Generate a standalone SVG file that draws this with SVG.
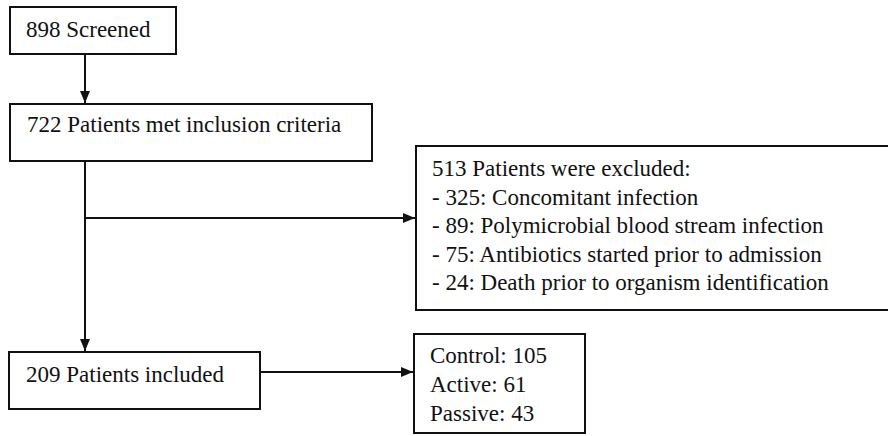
<svg xmlns="http://www.w3.org/2000/svg" width="888" height="436" viewBox="0 0 888 436">
<style>
.box{fill:#fff;stroke:#111;stroke-width:2}
.t{font-family:"Liberation Serif","Times New Roman",serif;font-size:23px;fill:#111}
.ln{fill:none;stroke:#111;stroke-width:2}
</style>
<defs>
<marker id="ah" viewBox="0 0 12 10" refX="12" refY="5" markerWidth="12" markerHeight="10" markerUnits="userSpaceOnUse" orient="auto">
<path d="M0,0 L12,5 L0,10 Z" fill="#111"/>
</marker>
</defs>
<rect width="888" height="436" fill="#fff"/>
<g id="connectors">
<line class="ln" x1="85" y1="54" x2="85" y2="103" marker-end="url(#ah)"/>
<line class="ln" x1="85" y1="161" x2="85" y2="351" marker-end="url(#ah)"/>
<line class="ln" x1="85" y1="218" x2="415" y2="218" marker-end="url(#ah)"/>
<line class="ln" x1="260" y1="372" x2="413" y2="372" marker-end="url(#ah)"/>
</g>
<g id="screened">
<rect class="box" x="10" y="7" width="166" height="47"/>
<text class="t" x="26" y="37">898 Screened</text>
</g>
<g id="met-criteria">
<rect class="box" x="10" y="104" width="362" height="57"/>
<text class="t" x="27" y="132">722 Patients met inclusion criteria</text>
</g>
<g id="excluded">
<rect class="box" x="416" y="146" width="480" height="164"/>
<text class="t" x="432" y="176">513 Patients were excluded:</text>
<text class="t" x="432" y="205">- 325: Concomitant infection</text>
<text class="t" x="432" y="233">- 89: Polymicrobial blood stream infection</text>
<text class="t" x="432" y="262">- 75: Antibiotics started prior to admission</text>
<text class="t" x="432" y="290">- 24: Death prior to organism identification</text>
</g>
<g id="included">
<rect class="box" x="9" y="352" width="251" height="57"/>
<text class="t" x="26" y="382">209 Patients included</text>
</g>
<g id="groups">
<rect class="box" x="414" y="334" width="171" height="99"/>
<text class="t" x="430" y="363">Control: 105</text>
<text class="t" x="430" y="392">Active: 61</text>
<text class="t" x="430" y="421">Passive: 43</text>
</g>
</svg>
